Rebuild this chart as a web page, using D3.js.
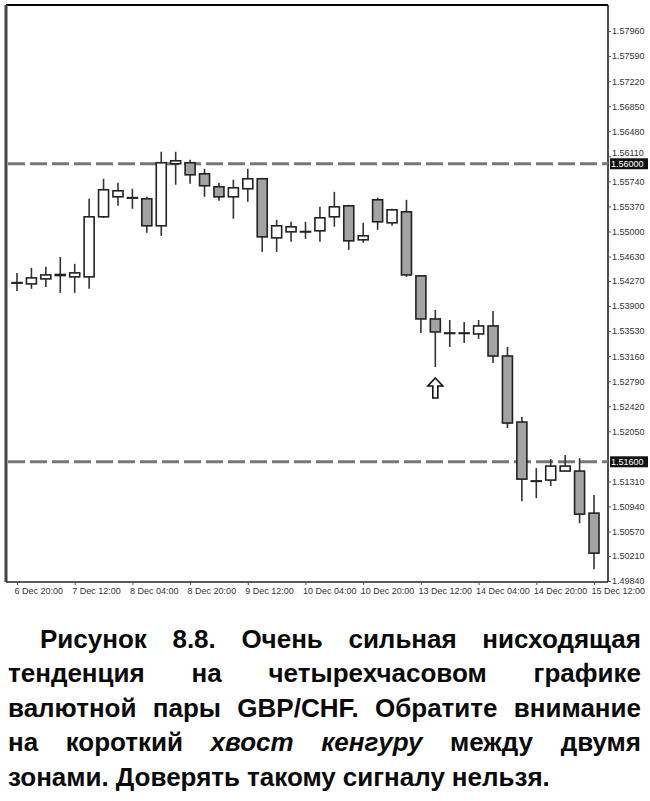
<!DOCTYPE html>
<html>
<head>
<meta charset="utf-8">
<script src="https://cdn.jsdelivr.net/npm/d3@7"></script>
<style>
  body { margin: 0; background: #fff; }
</style>
</head>
<body>
<script>
// GBP/CHF H4 candles
const opens  = [1.54241, 1.54226, 1.54300, 1.54350, 1.54330, 1.54330, 1.55217, 1.55512, 1.55497, 1.55483,
                1.55084, 1.56000, 1.56015, 1.55852, 1.55660, 1.55512, 1.55631, 1.55778, 1.54906, 1.54995,
                1.54995, 1.55010, 1.55217, 1.55379, 1.54877, 1.55468, 1.55128, 1.55291, 1.54345, 1.53709,
                1.53502, 1.53502, 1.53487, 1.53606, 1.53162, 1.52187, 1.51315, 1.51330, 1.51463, 1.51463,
                1.50842];
const highs  = [1.54389, 1.54463, 1.54478, 1.54625, 1.54522, 1.55483, 1.55778, 1.55719, 1.55631, 1.55512,
                1.56177, 1.56177, 1.56059, 1.55926, 1.55719, 1.55764, 1.55926, 1.55793, 1.55172, 1.55143,
                1.55143, 1.55364, 1.55586, 1.55394, 1.55128, 1.55497, 1.55335, 1.55468, 1.54359, 1.53842,
                1.53694, 1.53665, 1.53694, 1.53827, 1.53295, 1.52261, 1.51507, 1.51640, 1.51699, 1.51655,
                1.51108];
const lows   = [1.54123, 1.54153, 1.54182, 1.54093, 1.54093, 1.54153, 1.55202, 1.55379, 1.55335, 1.54980,
                1.54936, 1.55690, 1.55704, 1.55512, 1.55453, 1.55187, 1.55438, 1.54699, 1.54699, 1.54847,
                1.54892, 1.54847, 1.55069, 1.54729, 1.54832, 1.55025, 1.55084, 1.54330, 1.53502, 1.53000,
                1.53295, 1.53354, 1.53414, 1.53059, 1.52098, 1.51019, 1.51064, 1.51241, 1.51463, 1.50694,
                1.50014];
const closes = [1.54245, 1.54315, 1.54359, 1.54365, 1.54389, 1.55217, 1.55616, 1.55601, 1.55500, 1.55084,
                1.56015, 1.56044, 1.55837, 1.55675, 1.55512, 1.55645, 1.55778, 1.54921, 1.55084, 1.55069,
                1.55000, 1.55202, 1.55364, 1.54862, 1.54936, 1.55143, 1.55320, 1.54359, 1.53709, 1.53517,
                1.53500, 1.53498, 1.53606, 1.53162, 1.52172, 1.51344, 1.51318, 1.51537, 1.51537, 1.50827,
                1.50251];

const priceTicks = [1.57960, 1.57590, 1.57220, 1.56850, 1.56480, 1.56110, 1.55740, 1.55370, 1.55000,
                    1.54630, 1.54270, 1.53900, 1.53530, 1.53160, 1.52790, 1.52420, 1.52050, 1.51310,
                    1.50940, 1.50570, 1.50210, 1.49840];
const timeTicks = [0, 4, 8, 12, 16, 20, 24, 28, 32, 36, 40];
const timeLabels = ["6 Dec 20:00", "7 Dec 12:00", "8 Dec 04:00", "8 Dec 20:00", "9 Dec 12:00",
                    "10 Dec 04:00", "10 Dec 20:00", "13 Dec 12:00", "14 Dec 04:00", "14 Dec 20:00",
                    "15 Dec 12:00"];
const levels = [1.56000, 1.51600];
const tailBar = 29;  // the kangaroo tail candle

const captionLines = [
    "Рисунок 8.8. Очень сильная нисходящая",
    "тенденция на четырехчасовом графике",
    "валютной пары GBP/CHF. Обратите внимание",
    "на короткий *хвост *кенгуру между двумя",
    "зонами. Доверять такому сигналу нельзя."
];

const W = 650, H = 801;
const frame = { left: 6, right: 608, top: 5, bottom: 582 };

const svg = d3.select("body").append("svg")
    .attr("width", W)
    .attr("height", H)
    .attr("font-family", "'Liberation Sans', Arial, sans-serif");

const x = d3.scaleLinear().domain([0, opens.length - 1]).range([17, 594]);
const y = d3.scaleLinear().domain([1.49840, 1.57960]).range([581, 31]);

const bars = opens.map((o, i) => ({ i, o, h: highs[i], l: lows[i], c: closes[i] }));

// Frame
svg.append("line").attr("x1", frame.left).attr("x2", frame.right)
    .attr("y1", frame.top).attr("y2", frame.top)
    .attr("stroke", "#000").attr("stroke-width", 2);
svg.append("line").attr("x1", frame.left).attr("x2", frame.left)
    .attr("y1", frame.top).attr("y2", frame.bottom)
    .attr("stroke", "#444").attr("stroke-width", 3);

// Price axis on the right
svg.append("g")
    .attr("transform", `translate(${frame.right},0)`)
    .call(d3.axisRight(y).tickValues(priceTicks).tickFormat(d3.format(".5f")).tickSize(3).tickPadding(1))
    .call(g => g.select(".domain").attr("d", `M0,${frame.top}V${frame.bottom}`).attr("stroke", "#111").attr("stroke-width", 1.5))
    .call(g => g.selectAll(".tick line").attr("stroke", "#555"))
    .call(g => g.selectAll("text")
        .attr("fill", "#333")
        .attr("font-size", 9)
        .attr("font-family", "'Liberation Sans', Arial, sans-serif")
        // the label just above the boxed 1.56000 sits a little higher, as in the terminal
        .attr("dy", d => d === 1.56110 ? "-0.1em" : "0.32em"));

// Time axis at the bottom
svg.append("g")
    .attr("transform", `translate(0,${frame.bottom})`)
    .call(d3.axisBottom(x).tickValues(timeTicks).tickFormat((d, i) => timeLabels[i]).tickSize(3).tickPadding(3))
    .call(g => g.select(".domain").attr("d", `M${frame.left},0H${frame.right}`).attr("stroke", "#222").attr("stroke-width", 1.5))
    .call(g => g.selectAll(".tick line").attr("stroke", "#555"))
    .call(g => g.selectAll("text")
        .attr("text-anchor", "start")
        .attr("dx", -3)
        .attr("fill", "#333")
        .attr("font-size", 9)
        .attr("font-family", "'Liberation Sans', Arial, sans-serif"));

// Dashed level lines with boxed price labels
levels.forEach(p => {
    svg.append("line")
        .attr("x1", frame.left + 2).attr("x2", frame.right)
        .attr("y1", y(p)).attr("y2", y(p))
        .attr("stroke", "#777")
        .attr("stroke-width", 3)
        .attr("stroke-dasharray", "17,5");
    svg.append("rect")
        .attr("x", frame.right + 2).attr("y", y(p) - 5.5)
        .attr("width", 38).attr("height", 11)
        .attr("fill", "#111");
    svg.append("text")
        .attr("x", frame.right + 3).attr("y", y(p) + 3.5)
        .attr("font-size", 9)
        .attr("fill", "#fff")
        .text(d3.format(".5f")(p));
});

// Candles: wicks first, then bodies
const bodyW = 10;
const candles = svg.append("g");

candles.selectAll(".wick")
    .data(bars)
    .enter()
    .append("line")
    .attr("class", "wick")
    .attr("x1", d => x(d.i)).attr("x2", d => x(d.i))
    .attr("y1", d => y(d.h)).attr("y2", d => y(d.l))
    .attr("stroke", "#333")
    .attr("stroke-width", 1.6);

candles.selectAll(".body")
    .data(bars)
    .enter()
    .append("rect")
    .attr("class", "body")
    .attr("x", d => x(d.i) - bodyW / 2)
    .attr("y", d => y(Math.max(d.o, d.c)))
    .attr("width", bodyW)
    .attr("height", d => Math.max(0.5, Math.abs(y(d.o) - y(d.c))))
    .attr("fill", d => d.c >= d.o ? "#fff" : "#a3a3a3")
    .attr("stroke", "#222")
    .attr("stroke-width", 1.6);

// Outlined up arrow under the kangaroo tail
const ax = x(tailBar), ay = y(lows[tailBar]) + 11;
const arrow = d3.path();
arrow.moveTo(ax, ay);
arrow.lineTo(ax + 7.5, ay + 8);
arrow.lineTo(ax + 2.5, ay + 8);
arrow.lineTo(ax + 2.5, ay + 20);
arrow.lineTo(ax - 2.5, ay + 20);
arrow.lineTo(ax - 2.5, ay + 8);
arrow.lineTo(ax - 7.5, ay + 8);
arrow.closePath();
svg.append("path")
    .attr("d", arrow.toString())
    .attr("fill", "#fff")
    .attr("stroke", "#111")
    .attr("stroke-width", 1.6)
    .attr("stroke-linejoin", "miter");

// Caption, justified like the book page
const cap = svg.append("g")
    .attr("font-size", 26)
    .attr("font-weight", "bold")
    .attr("fill", "#0a0a0a");

const capLeft = 8, capRight = 641, firstIndent = 40, baseline0 = 648, lineStep = 34.4;

captionLines.forEach((line, li) => {
    const words = line.split(" ").map(w => ({ italic: w.startsWith("*"), t: w.replace("*", "") }));
    const by = baseline0 + li * lineStep;
    const nodes = words.map(w => cap.append("text")
        .attr("y", by)
        .attr("font-style", w.italic ? "italic" : "normal")
        .text(w.t));
    const widths = nodes.map(n => n.node().getComputedTextLength());
    const start = li === 0 ? firstIndent : capLeft;
    const isLast = li === captionLines.length - 1;
    const total = d3.sum(widths);
    const gap = isLast ? 7 : (capRight - start - total) / (words.length - 1);
    let cx = start;
    nodes.forEach((n, k) => {
        n.attr("x", cx);
        cx += widths[k] + gap;
    });
});
</script>
</body>
</html>
